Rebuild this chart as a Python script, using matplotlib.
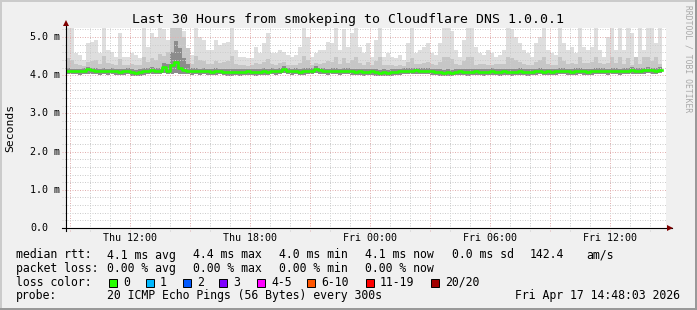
import numpy as np
import matplotlib
matplotlib.use("Agg")
import matplotlib.pyplot as plt
from matplotlib.patches import Rectangle, Polygon

W, H = 697, 310
plt.rcParams['font.family'] = ['DejaVu Sans Mono']

# one column = 12 minutes, hours counted from 08:48:03 (start of the 30 h window)
step_h = 0.2

rtt_median = [
    4.10, 4.11, 4.11, 4.10, 4.12, 4.15, 4.13, 4.11, 4.10, 4.11,
    4.10, 4.11, 4.10, 4.09, 4.10, 4.11, 4.08, 4.07, 4.08, 4.10,
    4.12, 4.13, 4.12, 4.11, 4.21, 4.12, 4.26, 4.35, 4.19, 4.13,
    4.11, 4.10, 4.11, 4.10, 4.11, 4.10, 4.09, 4.10, 4.11, 4.09,
    4.08, 4.08, 4.09, 4.08, 4.09, 4.10, 4.09, 4.08, 4.09, 4.10,
    4.09, 4.11, 4.10, 4.12, 4.17, 4.11, 4.10, 4.11, 4.09, 4.10,
    4.11, 4.12, 4.17, 4.13, 4.11, 4.10, 4.12, 4.11, 4.10, 4.12,
    4.11, 4.10, 4.09, 4.10, 4.08, 4.09, 4.10, 4.08, 4.07, 4.08,
    4.07, 4.08, 4.09, 4.10, 4.12, 4.11, 4.12, 4.13, 4.12, 4.11,
    4.12, 4.10, 4.09, 4.08, 4.07, 4.08, 4.07, 4.09, 4.10, 4.09,
    4.08, 4.09, 4.10, 4.09, 4.08, 4.09, 4.10, 4.09, 4.08, 4.10,
    4.09, 4.08, 4.09, 4.10, 4.09, 4.08, 4.09, 4.10, 4.11, 4.09,
    4.10, 4.09, 4.10, 4.12, 4.11, 4.10, 4.09, 4.10, 4.11, 4.10,
    4.09, 4.10, 4.11, 4.12, 4.11, 4.10, 4.11, 4.12, 4.10, 4.11,
    4.12, 4.13, 4.12, 4.11, 4.13, 4.14, 4.13, 4.12, 4.14,
]

rtt_min = [
    4.02, 4.03, 4.02, 4.01, 4.03, 4.04, 4.03, 4.02, 4.01, 4.02,
    4.01, 4.02, 4.01, 4.00, 4.01, 4.02, 3.99, 3.98, 3.99, 4.01,
    4.03, 4.04, 4.03, 4.02, 4.05, 4.03, 4.04, 4.06, 4.04, 4.03,
    4.02, 4.01, 4.02, 4.01, 4.02, 4.01, 4.00, 4.01, 4.02, 4.00,
    3.99, 3.99, 4.00, 3.99, 4.00, 4.01, 4.00, 3.99, 4.00, 4.01,
    4.00, 4.02, 4.01, 4.03, 4.05, 4.02, 4.01, 4.02, 4.00, 4.01,
    4.02, 4.03, 4.06, 4.04, 4.02, 4.01, 4.03, 4.02, 4.01, 4.03,
    4.02, 4.01, 4.00, 4.01, 3.99, 4.00, 4.01, 3.99, 3.98, 3.99,
    3.98, 3.99, 4.00, 4.01, 4.03, 4.02, 4.03, 4.04, 4.03, 4.02,
    4.03, 4.01, 4.00, 3.99, 3.98, 3.99, 3.98, 4.00, 4.01, 4.00,
    3.99, 4.00, 4.01, 4.00, 3.99, 4.00, 4.01, 4.00, 3.99, 4.01,
    4.00, 3.99, 4.00, 4.01, 4.00, 3.99, 4.00, 4.01, 4.02, 4.00,
    4.01, 4.00, 4.01, 4.03, 4.02, 4.01, 4.00, 4.01, 4.02, 4.01,
    4.00, 4.01, 4.02, 4.03, 4.02, 4.01, 4.02, 4.03, 4.01, 4.02,
    4.03, 4.04, 4.03, 4.02, 4.04, 4.05, 4.04, 4.03, 4.05,
]

rtt_p75 = [
    4.18, 4.17, 4.16, 4.17, 4.19, 4.22, 4.20, 4.18, 4.17, 4.19,
    4.17, 4.18, 4.16, 4.17, 4.16, 4.18, 4.15, 4.14, 4.15, 4.19,
    4.20, 4.22, 4.20, 4.19, 4.32, 4.30, 4.62, 4.90, 4.70, 4.45,
    4.30, 4.18, 4.19, 4.17, 4.18, 4.17, 4.16, 4.18, 4.17, 4.16,
    4.15, 4.16, 4.16, 4.15, 4.16, 4.17, 4.16, 4.15, 4.17, 4.18,
    4.17, 4.18, 4.16, 4.19, 4.24, 4.18, 4.17, 4.18, 4.16, 4.19,
    4.18, 4.19, 4.24, 4.20, 4.18, 4.17, 4.19, 4.18, 4.17, 4.19,
    4.18, 4.17, 4.16, 4.17, 4.15, 4.16, 4.17, 4.15, 4.14, 4.15,
    4.14, 4.15, 4.16, 4.17, 4.19, 4.18, 4.19, 4.20, 4.19, 4.18,
    4.19, 4.17, 4.16, 4.15, 4.14, 4.15, 4.14, 4.16, 4.17, 4.16,
    4.15, 4.16, 4.17, 4.16, 4.15, 4.16, 4.18, 4.16, 4.15, 4.17,
    4.16, 4.15, 4.16, 4.18, 4.16, 4.15, 4.16, 4.17, 4.19, 4.16,
    4.17, 4.16, 4.17, 4.19, 4.18, 4.17, 4.16, 4.18, 4.19, 4.17,
    4.16, 4.17, 4.19, 4.20, 4.18, 4.17, 4.18, 4.20, 4.17, 4.18,
    4.19, 4.21, 4.19, 4.18, 4.20, 4.22, 4.20, 4.19, 4.21,
]

rtt_p90 = [
    4.45, 4.40, 4.30, 4.28, 4.25, 4.35, 4.38, 4.40, 4.30, 4.50,
    4.32, 4.30, 4.27, 4.42, 4.28, 4.27, 4.30, 4.28, 4.26, 4.48,
    4.35, 4.45, 4.40, 4.55, 4.50, 4.60, 5.30, 5.30, 5.30, 5.00,
    4.70, 4.30, 4.50, 4.40, 4.36, 4.30, 4.30, 4.38, 4.33, 4.35,
    4.36, 4.50, 4.30, 4.26, 4.27, 4.25, 4.26, 4.33, 4.29, 4.34,
    4.42, 4.29, 4.28, 4.31, 4.35, 4.28, 4.26, 4.28, 4.33, 4.50,
    4.40, 4.27, 4.32, 4.30, 4.31, 4.36, 4.34, 4.48, 4.30, 4.45,
    4.33, 4.40, 4.48, 4.32, 4.28, 4.34, 4.26, 4.38, 4.48, 4.27,
    4.28, 4.26, 4.25, 4.28, 4.24, 4.35, 4.45, 4.29, 4.30, 4.31,
    4.34, 4.29, 4.28, 4.34, 4.47, 4.48, 4.43, 4.29, 4.26, 4.37,
    4.48, 4.47, 4.28, 4.29, 4.30, 4.28, 4.27, 4.29, 4.30, 4.29,
    4.47, 4.45, 4.40, 4.35, 4.30, 4.28, 4.26, 4.34, 4.40, 4.48,
    4.30, 4.28, 4.27, 4.48, 4.36, 4.30, 4.31, 4.29, 4.48, 4.33,
    4.31, 4.34, 4.48, 4.31, 4.29, 4.33, 4.48, 4.33, 4.48, 4.30,
    4.45, 4.27, 4.48, 4.30, 4.48, 4.48, 4.36, 4.48, 4.30,
]

rtt_max = [
    5.30, 5.30, 4.57, 4.53, 4.40, 4.83, 4.88, 4.92, 4.57, 5.30,
    4.66, 4.62, 4.48, 5.10, 4.48, 4.48, 4.57, 4.53, 4.44, 5.30,
    4.75, 5.10, 5.01, 5.30, 5.20, 4.92, 5.30, 5.30, 5.01, 5.15,
    4.48, 4.53, 5.30, 5.01, 4.92, 4.66, 4.66, 4.92, 4.79, 4.83,
    4.88, 5.30, 4.66, 4.48, 4.48, 4.44, 4.44, 4.75, 4.57, 4.83,
    5.10, 4.57, 4.57, 4.66, 4.62, 4.53, 4.48, 4.53, 4.75, 5.30,
    5.01, 4.48, 4.57, 4.66, 4.66, 4.88, 4.83, 5.30, 4.66, 5.20,
    4.75, 5.10, 5.30, 4.75, 4.57, 4.83, 4.48, 4.92, 5.30, 4.48,
    4.57, 4.48, 4.44, 4.53, 4.40, 4.83, 5.30, 4.57, 4.66, 4.75,
    4.83, 4.57, 4.53, 4.83, 5.30, 5.30, 5.15, 4.66, 4.48, 4.92,
    5.30, 5.30, 4.75, 4.57, 4.53, 4.66, 4.57, 4.48, 4.53, 4.66,
    5.30, 5.20, 5.01, 4.83, 4.66, 4.57, 4.48, 4.83, 5.01, 5.30,
    4.66, 4.57, 4.53, 5.30, 4.83, 4.66, 4.75, 4.57, 5.30, 4.75,
    4.66, 4.75, 5.30, 4.66, 4.48, 5.01, 5.30, 4.66, 5.30, 4.66,
    5.30, 5.10, 4.48, 5.30, 4.66, 5.30, 5.30, 4.83, 5.30,
]

hour_ticks = [3.2, 9.2, 15.2, 21.2, 27.2]
hour_labels = ["Thu 12:00", "Thu 18:00", "Fri 00:00", "Fri 06:00", "Fri 12:00"]
y_ticks = [0, 1, 2, 3, 4, 5]
y_labels = ["0.0", "1.0 m", "2.0 m", "3.0 m", "4.0 m", "5.0 m"]

loss_labels = ["0", "1", "2", "3", "4-5", "6-10", "11-19", "20/20"]
loss_colors = ["#26ff00", "#00b8ff", "#0059ff", "#7e00ff", "#ff00ff",
               "#ff5500", "#ff0000", "#a10000"]


def fx(x):
    return x / W


def fy(y):
    return 1 - y / H


fig = plt.figure(figsize=(W / 100, H / 100), dpi=100, facecolor="#f0f0f0")

# 3d-ish frame of the rrdtool image
fig.add_artist(Rectangle((0, fy(2)), 1, 2 / H, transform=fig.transFigure, color="#cbcbcb", lw=0))
fig.add_artist(Rectangle((0, 0), 2 / W, 1, transform=fig.transFigure, color="#cbcbcb", lw=0))
fig.add_artist(Rectangle((0, 0), 1, 2 / H, transform=fig.transFigure, color="#999999", lw=0))
fig.add_artist(Rectangle((fx(695), 0), 2 / W, 1, transform=fig.transFigure, color="#999999", lw=0))

ax = fig.add_axes([fx(66), fy(228), 600 / W, 200 / H])
ax.set_facecolor("white")
ax.set_xlim(0, 30)
ax.set_ylim(0, 200 / 38.2)
for s in ax.spines.values():
    s.set_visible(False)
ax.set_xticks([])
ax.set_yticks([])

n = len(rtt_median)
x = np.arange(n + 1) * step_h


def ext(v):
    return np.append(v, v[-1])


# smoke
ax.fill_between(x, ext(rtt_min), ext(rtt_max), step="post", color="#dedede", lw=0, zorder=1)
ax.fill_between(x, ext(rtt_min), ext(rtt_p90), step="post", color="#c6c6c6", lw=0, zorder=1.1)
ax.fill_between(x, ext(rtt_min), ext(rtt_p75), step="post", color="#8c8c8c", lw=0, zorder=1.2)

# grid: minor every hour / 0.2 ms, major every 3 h / 1 ms
xt = ax.get_xaxis_transform()
yt = ax.get_yaxis_transform()
for h in np.arange(0.2, 30, 1.0):
    major = abs((h - 0.2) % 3) < 1e-6
    col = "#e2b0b0" if major else "#cdcdcd"
    ax.plot([h, h], [-0.015, 1], transform=xt, color=col, lw=0.72,
            ls=(0, (1, 1.5)), clip_on=False, zorder=3)
for v in np.arange(0.2, 5.25, 0.2):
    major = abs(v - round(v)) < 1e-6
    col = "#e2b0b0" if major else "#cdcdcd"
    ax.plot([-0.006, 1], [v, v], transform=yt, color=col, lw=0.72,
            ls=(0, (1, 1.5)), clip_on=False, zorder=3)

# median line
ax.step(x, ext(rtt_median), where="post", color=loss_colors[0], lw=1.9, zorder=4)

# axes with arrows
ax.plot([-0.006, 1.01], [0, 0], transform=yt, color="black", lw=0.8, clip_on=False, zorder=5)
ax.plot([0, 0], [-0.015, 1.02], transform=xt, color="black", lw=0.8, clip_on=False, zorder=5)
fig.add_artist(Polygon([(fx(667), fy(225)), (fx(667), fy(231)), (fx(673), fy(228))],
                       closed=True, transform=fig.transFigure, color="#7f0000", lw=0))
fig.add_artist(Polygon([(fx(63), fy(26)), (fx(69), fy(26)), (fx(66), fy(20))],
                       closed=True, transform=fig.transFigure, color="#7f0000", lw=0))

# tick labels
for h, lab in zip(hour_ticks, hour_labels):
    ax.text(h, -10 / 200, lab, transform=xt, ha="center", va="center", fontsize=7.2)
for v, lab in zip(y_ticks, y_labels):
    ax.text(-36 / 600, v, lab, transform=yt, ha="left", va="center", fontsize=7.2)

fig.text(0.5, fy(19), "Last 30 Hours from smokeping to Cloudflare DNS 1.0.0.1",
         ha="center", va="center", fontsize=9.5)
fig.text(fx(10), fy(128), "Seconds", rotation=90, ha="center", va="center", fontsize=8.2)
fig.text(fx(688), fy(5), "RRDTOOL / TOBI OETIKER", rotation=270, ha="center", va="top",
         fontsize=5.8, color="#a8a8a8")

fs = 8.3
rows = [255, 268.5, 282, 296]
fig.text(fx(16), fy(rows[0]), "median rtt:", va="center", fontsize=fs)
for xp, t in zip([107, 193, 279, 365, 452, 530, 586],
                 ["4.1 ms avg", "4.4 ms max", "4.0 ms min", "4.1 ms now",
                  "0.0 ms sd", "142.4", "am/s"]):
    fig.text(fx(xp), fy(rows[0]), t, va="center", fontsize=fs)

fig.text(fx(16), fy(rows[1]), "packet loss:", va="center", fontsize=fs)
for xp, t in zip([107, 193, 279, 365],
                 ["0.00 % avg", "0.00 % max", "0.00 % min", "0.00 % now"]):
    fig.text(fx(xp), fy(rows[1]), t, va="center", fontsize=fs)

fig.text(fx(16), fy(rows[2]), "loss color:", va="center", fontsize=fs)
box_x = [109, 146, 183, 219, 257, 307, 366, 431]
for bx, lab, c in zip(box_x, loss_labels, loss_colors):
    fig.add_artist(Rectangle((fx(bx), fy(287)), 8 / W, 8 / H, transform=fig.transFigure,
                             facecolor=c, edgecolor="black", lw=0.7))
    fig.text(fx(bx + 14), fy(rows[2]), lab, va="center", fontsize=fs)

fig.text(fx(16), fy(rows[3]), "probe:", va="center", fontsize=fs)
fig.text(fx(107), fy(rows[3]), "20 ICMP Echo Pings (56 Bytes) every 300s", va="center", fontsize=fs)
fig.text(fx(680), fy(rows[3]), "Fri Apr 17 14:48:03 2026", ha="right", va="center", fontsize=fs)

fig.savefig("out.png", dpi=100, facecolor=fig.get_facecolor())
